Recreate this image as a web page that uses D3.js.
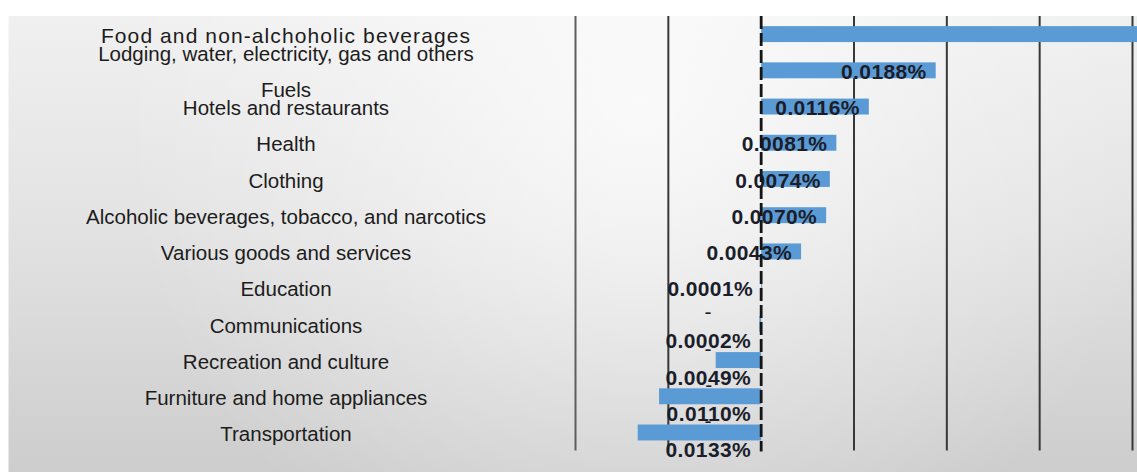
<!DOCTYPE html>
<html>
<head>
<meta charset="utf-8">
<script src="https://cdn.jsdelivr.net/npm/d3@7"></script>
<style>
  html, body { margin: 0; padding: 0; background: #ffffff; }
  svg { display: block; }
</style>
</head>
<body>
<svg id="chart" width="1137" height="472"></svg>
<script>
// Contribution of each expenditure group to the monthly variation (%)
const categories = [
  ["Food and non-alchoholic beverages"],
  ["Lodging, water, electricity, gas and others", "Fuels"],
  ["Hotels and restaurants"],
  ["Health"],
  ["Clothing"],
  ["Alcoholic beverages, tobacco, and narcotics"],
  ["Various goods and services"],
  ["Education"],
  ["Communications"],
  ["Recreation and culture"],
  ["Furniture and home appliances"],
  ["Transportation"]
];
const values = [0.0530, 0.0188, 0.0116, 0.0081, 0.0074, 0.0070, 0.0043, 0.0001, -0.0002, -0.0049, -0.0110, -0.0133];
const gridTicks = [-0.02, -0.01, 0, 0.01, 0.02, 0.03, 0.04];

const W = 1137, H = 472;
const panel = { left: 8.5, top: 16 };
const plotTop = 16, plotBottom = 450.6;

const svg = d3.select("#chart");
const defs = svg.append("defs");

// soft grey backdrop
const lin = defs.append("linearGradient").attr("id", "bgLin")
  .attr("x1", 0).attr("y1", 0).attr("x2", 0).attr("y2", 1);
lin.append("stop").attr("offset", 0).attr("stop-color", "#f0f0f0");
lin.append("stop").attr("offset", 0.45).attr("stop-color", "#e3e3e3");
lin.append("stop").attr("offset", 1).attr("stop-color", "#cdcdcd");

const rad = defs.append("radialGradient").attr("id", "bgGlow")
  .attr("gradientUnits", "userSpaceOnUse")
  .attr("cx", 640).attr("cy", 110).attr("r", 520);
rad.append("stop").attr("offset", 0).attr("stop-color", "#ffffff").attr("stop-opacity", 0.75);
rad.append("stop").attr("offset", 0.6).attr("stop-color", "#ffffff").attr("stop-opacity", 0.25);
rad.append("stop").attr("offset", 1).attr("stop-color", "#ffffff").attr("stop-opacity", 0);

defs.append("clipPath").attr("id", "plotClip")
  .append("rect").attr("x", 0).attr("y", 0).attr("width", W).attr("height", H);

svg.append("rect").attr("x", panel.left).attr("y", panel.top)
  .attr("width", W - panel.left).attr("height", H - panel.top)
  .attr("fill", "url(#bgLin)");
svg.append("rect").attr("x", panel.left).attr("y", panel.top)
  .attr("width", W - panel.left).attr("height", H - panel.top)
  .attr("fill", "url(#bgGlow)");

// scales
const x = d3.scaleLinear().domain([-0.02, 0.04]).range([575.5, 1132.5]);
const y = d3.scaleBand().domain(d3.range(categories.length))
  .range([plotTop, plotBottom]).paddingInner(0.56).paddingOuter(0.28);
const cy = i => y(i) + y.bandwidth() / 2;

// vertical gridlines
svg.append("g").selectAll("line")
  .data(gridTicks.filter(t => t !== 0))
  .join("line")
  .attr("x1", d => x(d)).attr("x2", d => x(d))
  .attr("y1", plotTop).attr("y2", plotBottom)
  .attr("stroke", d => d === -0.02 ? "#5e5e5e" : "#383838")
  .attr("stroke-width", 2);

// bars
const plot = svg.append("g").attr("clip-path", "url(#plotClip)");
plot.selectAll("rect.bar")
  .data(values)
  .join("rect")
  .attr("class", "bar")
  .attr("x", d => x(Math.min(0, d)))
  .attr("width", d => Math.abs(x(d) - x(0)))
  .attr("y", (d, i) => y(i))
  .attr("height", y.bandwidth())
  .attr("fill", "#5b9bd5");

// zero axis (dashed)
svg.append("line")
  .attr("x1", x(0)).attr("x2", x(0))
  .attr("y1", plotTop).attr("y2", plotBottom + 1)
  .attr("stroke", "#151515").attr("stroke-width", 2.8)
  .attr("stroke-dasharray", "13,4");

// category labels
const catG = svg.append("g")
  .attr("font-family", "'Liberation Sans', Arial, sans-serif")
  .attr("fill", "#1c1c1c");
categories.forEach((lines, i) => {
  const t = catG.append("text")
    .attr("x", 286)
    .attr("text-anchor", "middle")
    .attr("font-size", i === 0 ? 21 : 20.5)
    .attr("letter-spacing", i === 0 ? 1.1 : 0);
  const gap = 36.5;
  lines.forEach((ln, k) => {
    const off = (k - (lines.length - 1) / 2) * gap;
    t.append("tspan")
      .attr("x", 286)
      .attr("y", cy(i) + 1.5 + off)
      .attr("dy", "0.35em")
      .text(ln);
  });
});

// value labels (inside the bar end; none for a bar that runs past the axis)
const fmt = d3.format(".4f");
const xMax = x.range()[1];
const valG = plot.append("g")
  .attr("font-family", "'Liberation Sans', Arial, sans-serif")
  .attr("font-weight", "bold")
  .attr("font-size", 21)
  .attr("letter-spacing", 0.4)
  .attr("fill", "#1b1e2a");

values.forEach((v, i) => {
  const label = fmt(Math.abs(v)) + "%";
  if (v >= 0) {
    if (x(v) > xMax) return;
    valG.append("text")
      .attr("x", x(v) - 9)
      .attr("y", cy(i) + 1)
      .attr("dy", "0.36em")
      .attr("text-anchor", "end")
      .text(label);
  } else {
    const endX = x(0) - 10;
    const num = valG.append("text")
      .attr("x", endX)
      .attr("y", cy(i) + 17)
      .attr("dy", "0.36em")
      .attr("text-anchor", "end")
      .text(label);
    const w = num.node().getComputedTextLength();
    valG.append("text")
      .attr("x", endX - w / 2)
      .attr("y", cy(i) - 12)
      .attr("dy", "0.36em")
      .attr("text-anchor", "middle")
      .attr("font-weight", "normal")
      .text("-");
  }
});
</script>
</body>
</html>
